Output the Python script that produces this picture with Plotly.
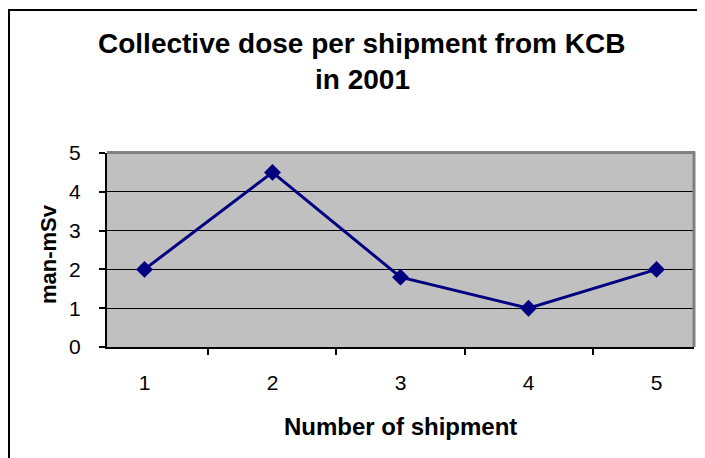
import plotly.graph_objects as go

shipments = ["1", "2", "3", "4", "5"]
dose = [2.0, 4.5, 1.8, 1.0, 2.0]
y_ticks = [0, 1, 2, 3, 4, 5]

# page body has an 8px margin; work in screen pixels and shift
OFF = 8
W, H = 705, 458
PL, PR, PT, PB = 107, 694, 153, 347          # plot area in screen pixels
L, T = PL - OFF, PT - OFF
R = W - (PR - OFF)
B = H - (PB - OFF)
pw, ph = PR - PL, PB - PT

def px(x):
    return (x - PL) / pw

def py(y):
    return (PB - y) / ph

FONT = "Liberation Sans, Arial, sans-serif"

fig = go.Figure()
fig.add_trace(go.Scatter(
    x=shipments, y=dose, mode="lines+markers",
    line=dict(color="#000080", width=3),
    marker=dict(symbol="diamond", size=13, color="#000080"),
    cliponaxis=False, showlegend=False,
))

fig.update_layout(
    width=W, height=H,
    margin=dict(l=L, r=R, t=T, b=B, autoexpand=False),
    paper_bgcolor="white", plot_bgcolor="#C0C0C0",
    font=dict(family=FONT, color="black"),
    xaxis=dict(
        type="category", tickson="boundaries", ticks="outside", ticklen=6,
        tickcolor="black", tickwidth=1.5, showline=True, linecolor="black",
        linewidth=2, showgrid=False, tickfont=dict(size=21), ticklabelstandoff=16,
        zeroline=False,
    ),
    yaxis=dict(
        range=[0, 5], tickvals=y_ticks, ticks="outside", ticklen=6,
        tickcolor="black", tickwidth=1.5, showline=True, linecolor="black",
        linewidth=2, showgrid=True, gridcolor="black", gridwidth=1.2,
        tickfont=dict(size=21), ticklabelstandoff=14, zeroline=False,
    ),
    shapes=[
        # outer chart border
        dict(type="rect", xref="paper", yref="paper",
             x0=px(9), x1=px(760), y0=py(500), y1=py(10),
             line=dict(color="black", width=2), layer="below"),
        # plot area top and right grey border
        dict(type="line", xref="paper", yref="paper",
             x0=0, x1=px(695), y0=py(PT - 0.5), y1=py(PT - 0.5),
             line=dict(color="#808080", width=3), layer="above"),
        dict(type="line", xref="paper", yref="paper",
             x0=px(694), x1=px(694), y0=0, y1=py(PT - 1.5),
             line=dict(color="#808080", width=3), layer="above"),
    ],
    annotations=[
        dict(text="<b>Collective dose per shipment from KCB</b>", xref="paper", yref="paper",
             x=px(361), y=py(43), xanchor="center", yanchor="middle", showarrow=False,
             font=dict(size=28, family=FONT)),
        dict(text="<b>in 2001</b>", xref="paper", yref="paper",
             x=px(362), y=py(79), xanchor="center", yanchor="middle", showarrow=False,
             font=dict(size=28, family=FONT)),
        dict(text="<b>Number of shipment</b>", xref="paper", yref="paper",
             x=px(401), y=py(426), xanchor="center", yanchor="middle", showarrow=False,
             font=dict(size=24, family=FONT)),
        dict(text="<b>man-mSv</b>", xref="paper", yref="paper", textangle=-90,
             x=px(48), y=py(254), xanchor="center", yanchor="middle", showarrow=False,
             font=dict(size=22, family=FONT)),
    ],
)

fig.write_html("out.html")
